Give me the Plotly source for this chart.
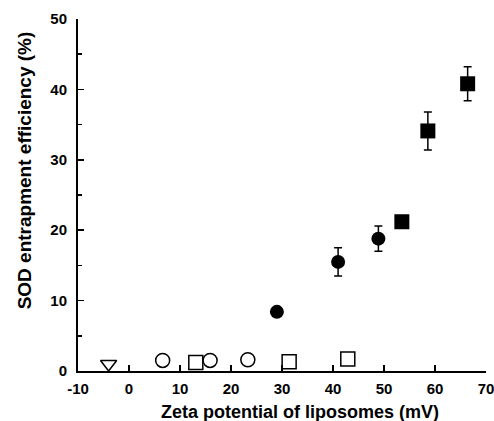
import plotly.graph_objects as go

# Data
tri_x = [-4.0]
tri_y = [1.0]

open_circ_x = [6.6, 15.9, 23.3]
open_circ_y = [1.5, 1.5, 1.6]

open_sq_x = [13.1, 31.4, 42.9]
open_sq_y = [1.2, 1.3, 1.7]

fill_circ_x = [29.0, 41.0, 48.9]
fill_circ_y = [8.4, 15.5, 18.8]
fill_circ_err = [0.0, 2.0, 1.8]

fill_sq_x = [53.5, 58.6, 66.4]
fill_sq_y = [21.2, 34.1, 40.8]
fill_sq_err = [0.6, 2.7, 2.4]

x_ticks = [-10, 0, 10, 20, 30, 40, 50, 60, 70]
y_ticks = [0, 10, 20, 30, 40, 50]

x_title = "Zeta potential of liposomes (mV)"
y_title = "SOD entrapment efficiency (%)"

fig = go.Figure()

err_style = dict(type="data", color="black", thickness=1.5, width=4)

fig.add_trace(go.Scatter(x=tri_x, y=tri_y, mode="markers",
    marker=dict(symbol="triangle-down-open", size=14, color="black", line=dict(width=1.5)),
    cliponaxis=False, hoverinfo="skip"))
fig.add_trace(go.Scatter(x=open_circ_x, y=open_circ_y, mode="markers",
    marker=dict(symbol="circle-open", size=14, color="black", line=dict(width=1.5)),
    cliponaxis=False, hoverinfo="skip"))
fig.add_trace(go.Scatter(x=open_sq_x, y=open_sq_y, mode="markers",
    marker=dict(symbol="square-open", size=14, color="black", line=dict(width=1.5)),
    cliponaxis=False, hoverinfo="skip"))
fig.add_trace(go.Scatter(x=fill_circ_x, y=fill_circ_y, mode="markers",
    marker=dict(symbol="circle", size=14, color="black"),
    error_y=dict(array=fill_circ_err, **err_style),
    cliponaxis=False, hoverinfo="skip"))
fig.add_trace(go.Scatter(x=fill_sq_x, y=fill_sq_y, mode="markers",
    marker=dict(symbol="square", size=15, color="black"),
    error_y=dict(array=fill_sq_err, **err_style),
    cliponaxis=False, hoverinfo="skip"))

FAM = "Liberation Sans"

fig.update_layout(
    width=494, height=421,
    margin=dict(l=78, r=8, t=19, b=50, autoexpand=False),
    plot_bgcolor="white", paper_bgcolor="white",
    showlegend=False,
    font=dict(family=FAM, color="black", size=15),
    annotations=[
        dict(text="<b>%s</b>" % x_title, xref="paper", yref="paper",
             x=0.544, y=0, xanchor="center", yanchor="middle", yshift=-41,
             showarrow=False, font=dict(size=18, family=FAM, color="black")),
        dict(text="<b>%s</b>" % y_title, xref="paper", yref="paper",
             x=0, y=0.57, xanchor="center", yanchor="middle", xshift=-54,
             textangle=-90, showarrow=False,
             font=dict(size=19, family=FAM, color="black")),
    ],
)
fig.update_xaxes(
    range=[-10, 70], tickvals=x_ticks, ticktext=["<b>%d</b>" % v for v in x_ticks],
    automargin=False,
    showgrid=False, zeroline=False, showline=True, linecolor="black", linewidth=2,
    ticks="inside", ticklen=6, tickwidth=1.5, tickcolor="black",
    ticklabelstandoff=3, ticklabeloverflow="allow",
    tickfont=dict(size=15, family=FAM, color="black"),
)
fig.update_yaxes(
    range=[0, 50], tickvals=y_ticks, ticktext=["<b>%d</b>" % v for v in y_ticks],
    automargin=False,
    showgrid=False, zeroline=False, showline=True, linecolor="black", linewidth=2,
    ticks="inside", ticklen=6, tickwidth=1.5, tickcolor="black",
    ticklabelstandoff=6,
    minor=dict(ticks="inside", dtick=5, ticklen=4, tickwidth=1.5, tickcolor="black", showgrid=False),
    tickfont=dict(size=15, family=FAM, color="black"),
)

fig.write_html("out.html",
               config={"displayModeBar": False, "staticPlot": True},
               post_script="document.body.style.margin='0';document.body.style.overflow='hidden';")
